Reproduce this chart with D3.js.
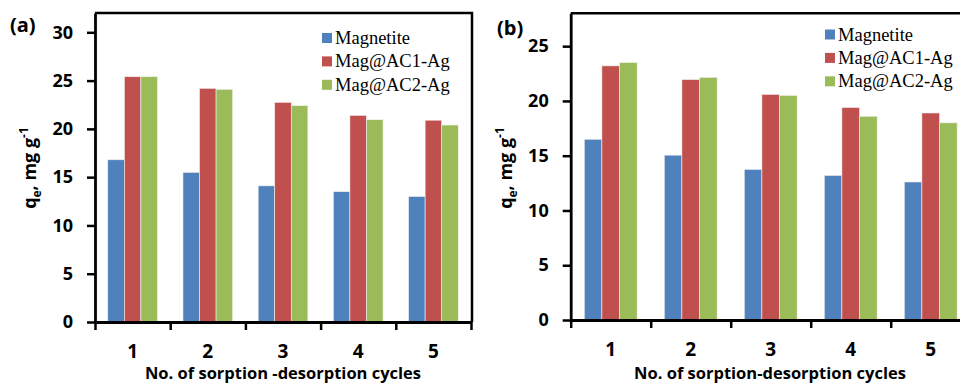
<!DOCTYPE html>
<html>

<head>
  <meta charset="utf-8">
  <title>Sorption-desorption cycles</title>
  <script src="https://d3js.org/d3.v7.min.js"></script>
  <style>
    body { margin: 0; background: #fff; }
    svg { display: block; }
    .tick text { font-family: "Open Sans", sans-serif; font-weight: bold; }
  </style>
</head>

<body>
  <svg width="960" height="383"></svg>
  <script>
    const cycles = ["1", "2", "3", "4", "5"];
    const seriesNames = ["Magnetite", "Mag@AC1-Ag", "Mag@AC2-Ag"];
    const colors = ["#4F81BD", "#C0504D", "#9BBB59"];

    // panel (a)
    const magnetiteA = [16.8, 15.5, 14.1, 13.5, 13.0];
    const ac1A = [25.4, 24.2, 22.75, 21.4, 20.9];
    const ac2A = [25.4, 24.1, 22.4, 20.95, 20.4];
    const yTicksA = [0, 5, 10, 15, 20, 25, 30];

    // panel (b)
    const magnetiteB = [16.5, 15.05, 13.75, 13.2, 12.6];
    const ac1B = [23.2, 21.95, 20.6, 19.4, 18.9];
    const ac2B = [23.5, 22.15, 20.5, 18.6, 18.0];
    const yTicksB = [0, 5, 10, 15, 20, 25];

    const svg = d3.select("svg");

    function drawPanel(p) {
      const g = svg.append("g");
      const series = [p.s1, p.s2, p.s3];

      const x = d3.scaleBand().domain(cycles).range([p.left, p.left + 5 * p.step]);
      const xs = d3.scaleBand().domain(seriesNames).range([0, x.bandwidth()]).paddingOuter(0.77);
      const y = d3.scaleLinear().domain([0, p.ymax]).range([p.bottom, p.top]);

      // bars
      seriesNames.forEach((name, i) => {
        g.selectAll(null)
          .data(series[i])
          .enter()
          .append("rect")
          .attr("x", (d, j) => x(cycles[j]) + xs(name))
          .attr("y", d => y(d))
          .attr("width", xs.bandwidth())
          .attr("height", d => y(0) - y(d))
          .attr("fill", colors[i])
          .attr("stroke", "#f2f2f2")
          .attr("stroke-width", 0.6);
      });

      // frame (top and right)
      g.append("path")
        .attr("d", `M${p.left},${p.top}H${p.right}V${p.bottom}`)
        .attr("fill", "none")
        .attr("stroke", "#000")
        .attr("stroke-width", 2.5);

      // y axis
      const yAxis = g.append("g")
        .attr("transform", `translate(${p.left},0)`)
        .call(d3.axisLeft(y).tickValues(p.yTicks).tickSize(8).tickPadding(14).tickSizeOuter(0));
      yAxis.select(".domain").attr("stroke-width", 2.8);
      yAxis.selectAll(".tick line").attr("stroke-width", 2.5);
      yAxis.selectAll(".tick text").attr("font-size", 18).attr("fill", "#000");

      // x axis: boundary ticks
      const xb = d3.scaleLinear().domain([0, 5]).range([p.left, p.left + 5 * p.step]);
      const xAxis = g.append("g")
        .attr("transform", `translate(0,${p.bottom})`)
        .call(d3.axisBottom(xb).tickValues([0, 1, 2, 3, 4, 5]).tickSize(8).tickFormat("").tickSizeOuter(0));
      xAxis.select(".domain").attr("stroke-width", 2.8);
      xAxis.selectAll(".tick line").attr("stroke-width", 2.5);

      // category labels
      g.selectAll(null)
        .data(cycles)
        .enter()
        .append("text")
        .attr("x", d => x(d) + x.bandwidth() / 2)
        .attr("y", p.catY)
        .attr("text-anchor", "middle")
        .attr("font-family", "Open Sans, sans-serif")
        .attr("font-weight", "bold")
        .attr("font-size", 19)
        .text(d => d);

      // x title
      g.append("text")
        .attr("x", p.titleX)
        .attr("y", 379)
        .attr("text-anchor", "middle")
        .attr("font-family", "Open Sans, sans-serif")
        .attr("font-weight", "bold")
        .attr("font-size", 16.5)
        .text(p.xTitle);

      // y title
      const yt = g.append("text")
        .attr("transform", `translate(${p.yTitleX},168) rotate(-90)`)
        .attr("text-anchor", "middle")
        .attr("font-family", "Open Sans, sans-serif")
        .attr("font-weight", "bold")
        .attr("font-size", 18);
      yt.append("tspan").text("q");
      yt.append("tspan").attr("font-size", 12).attr("dy", 5).text("e");
      yt.append("tspan").attr("dy", -5).text(", mg g");
      yt.append("tspan").attr("font-size", 12).attr("dy", -8).text("-1");

      // panel tag
      g.append("text")
        .attr("x", p.tagX)
        .attr("y", p.tagY)
        .attr("font-family", "Open Sans, sans-serif")
        .attr("font-weight", "bold")
        .attr("font-size", 20)
        .text(p.tag);

      // legend
      const lg = g.append("g");
      seriesNames.forEach((name, i) => {
        const ly = p.legY + i * 23.4;
        lg.append("rect")
          .attr("x", p.legX)
          .attr("y", ly - 5)
          .attr("width", 10)
          .attr("height", 10)
          .attr("fill", colors[i]);
        lg.append("text")
          .attr("x", p.legX + 13)
          .attr("y", ly + 6)
          .attr("font-family", "Liberation Serif, serif")
          .attr("font-size", 18.5)
          .text(name);
      });
    }

    drawPanel({
      s1: magnetiteA, s2: ac1A, s3: ac2A, yTicks: yTicksA, ymax: 32,
      left: 95, right: 472, top: 13, bottom: 322, step: 75.2,
      catY: 358, titleX: 283, xTitle: "No. of sorption -desorption cycles",
      yTitleX: 36, tag: "(a)", tagX: 10, tagY: 32, legX: 322, legY: 38
    });

    drawPanel({
      s1: magnetiteB, s2: ac1B, s3: ac2B, yTicks: yTicksB, ymax: 28,
      left: 570.7, right: 990, top: 13.3, bottom: 320, step: 80,
      catY: 356, titleX: 770, xTitle: "No. of sorption-desorption cycles",
      yTitleX: 512, tag: "(b)", tagX: 497, tagY: 35, legX: 825, legY: 34.5
    });
  </script>
</body>

</html>
